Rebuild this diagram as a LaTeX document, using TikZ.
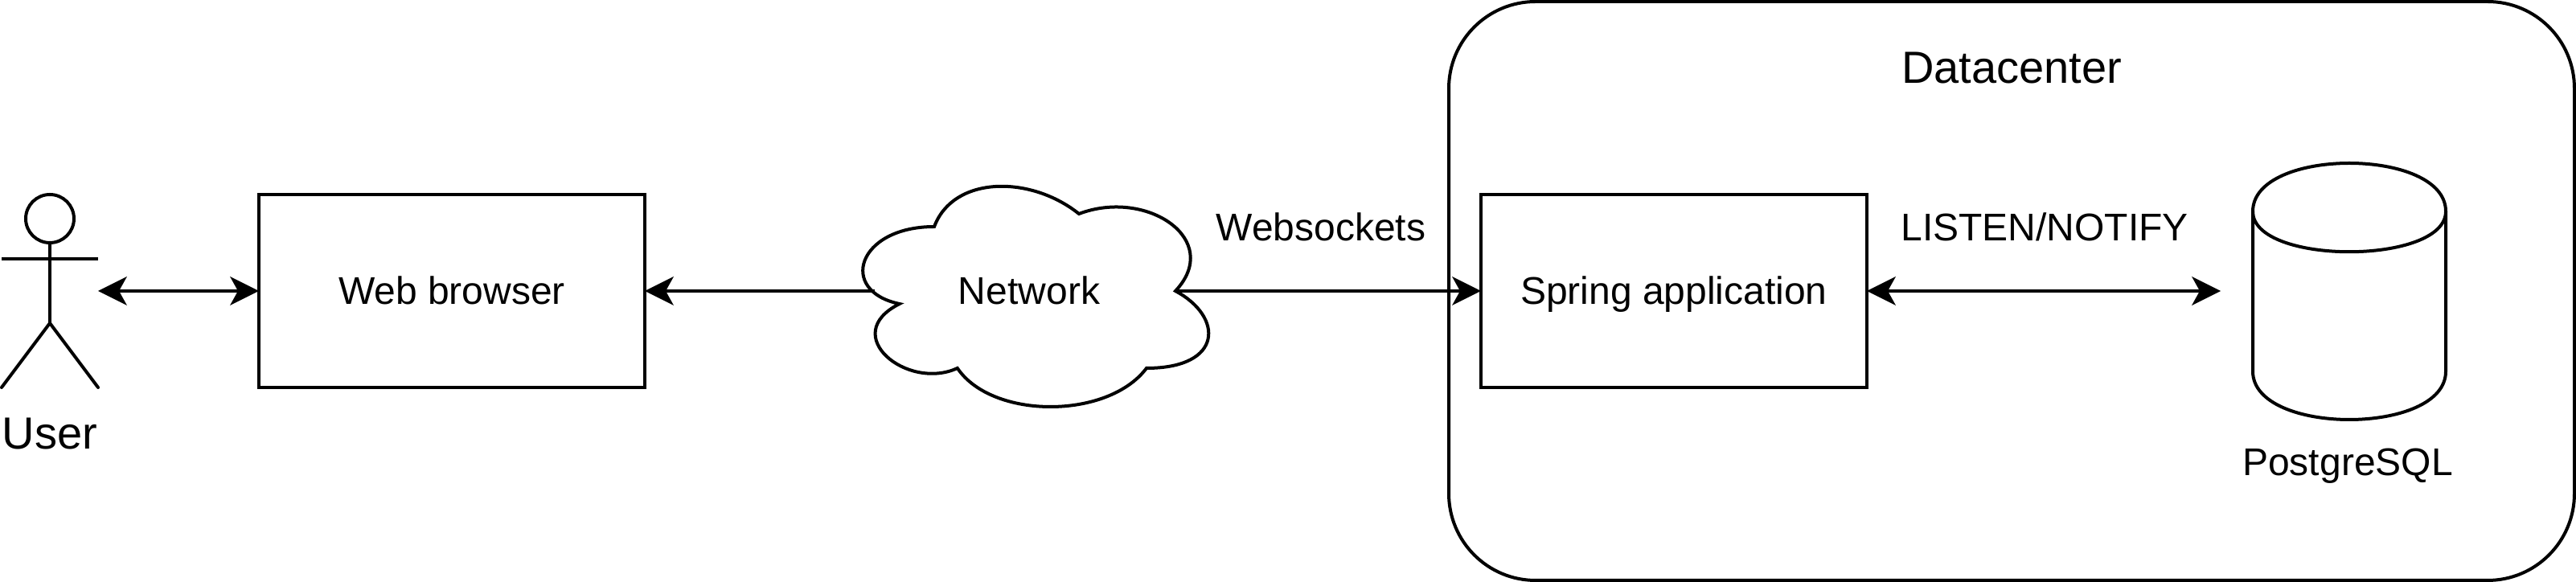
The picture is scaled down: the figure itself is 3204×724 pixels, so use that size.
\documentclass[tikz,border=0pt]{standalone}
\usepackage{fontspec}
\setmainfont{Liberation Sans}
\usetikzlibrary{arrows.meta}
\tikzset{
  hd/.tip={Stealth[length=9pt,width=9pt,inset=2.5pt,line width=0pt]},
  ln/.style={line width=1pt,draw=black},
  tw/.style={ln,{hd}-{hd}},
  on/.style={ln,-{hd}},
  boxn/.style={ln,rectangle,minimum width=120pt,minimum height=60pt,inner sep=0pt,outer sep=0pt,font=\fontsize{12}{14}\selectfont,text height=10.5pt,text depth=2pt},
  lab/.style={inner sep=0pt,outer sep=0pt,anchor=base,font=\fontsize{12}{14}\selectfont},
  labb/.style={inner sep=0pt,outer sep=0pt,anchor=base,font=\fontsize{14}{16}\selectfont}
}
\begin{document}
\begin{tikzpicture}[x=0.25pt,y=-0.25pt]
\useasboundingbox (0,0) rectangle (3204,724);
\fill[white] (0,0) rectangle (3204,724);
% Datacenter container
\node[ln,rectangle,rounded corners=27pt,minimum width=350pt,minimum height=180pt,inner sep=0pt,outer sep=0pt] (dc) at (2502,362) {};
\node[labb] (dclabel) at (2502,104) {Datacenter};
% User
\node[ln,circle,minimum size=15pt,inner sep=0pt,outer sep=0pt] (head) at (62,272) {};
\coordinate (neck) at (62,322);
\coordinate (hip) at (62,402);
\coordinate (handl) at (2,322);
\coordinate (handr) at (122,322);
\coordinate (footl) at (2,482);
\coordinate (footr) at (122,482);
\coordinate (userport) at (122,362);
\draw[ln] (head.south) -- (hip);
\draw[ln] (handl) -- (handr);
\draw[ln,line cap=round,line join=round] (footl) -- (hip) -- (footr);
\node[labb] (userlabel) at (62,559) {User};
% Boxes
\node[boxn] (web) at (562,362) {Web browser};
\node[boxn] (spring) at (2082,362) {Spring application};
% Cloud ports
\coordinate (cloudl) at (1088,362);
\coordinate (cloudr) at (1462,362);
% Connectors
\draw[tw] (userport) -- (web.west);
\draw[on] (cloudl) -- (web.east);
\draw[on] (cloudr) -- (spring.west);
\coordinate (dbport) at (2762,362);
\draw[tw] (spring.east) -- (dbport);
% Cloud
\draw[ln,line join=miter] (1162,282)
  .. controls (1066,282) and (1042,362) .. (1118.8,378)
  .. controls (1042,416.4) and (1128.4,486.8) .. (1190.8,458)
  .. controls (1234,522) and (1378,522) .. (1426,458)
  .. controls (1522,458) and (1522,394) .. (1462,362)
  .. controls (1522,298) and (1426,234) .. (1342,266)
  .. controls (1282,218) and (1186,218) .. (1162,282) -- cycle;
\node[inner sep=0pt,outer sep=0pt,anchor=base,font=\fontsize{12}{14}\selectfont] (network) at (1280,379) {Network};
% Cylinder
\draw[ln] (2802,263)
  .. controls (2802,183) and (3042,183) .. (3042,263)
  -- (3042,462)
  .. controls (3042,542) and (2802,542) .. (2802,462) -- cycle;
\draw[ln] (2802,263) .. controls (2802,330) and (3042,330) .. (3042,263);
\node[lab] (pg) at (2920,592) {PostgreSQL};
% Edge labels
\node[lab] (ws) at (1643,300) {Websockets};
\node[lab] (ln) at (2543,300) {LISTEN/NOTIFY};
\end{tikzpicture}
\end{document}
